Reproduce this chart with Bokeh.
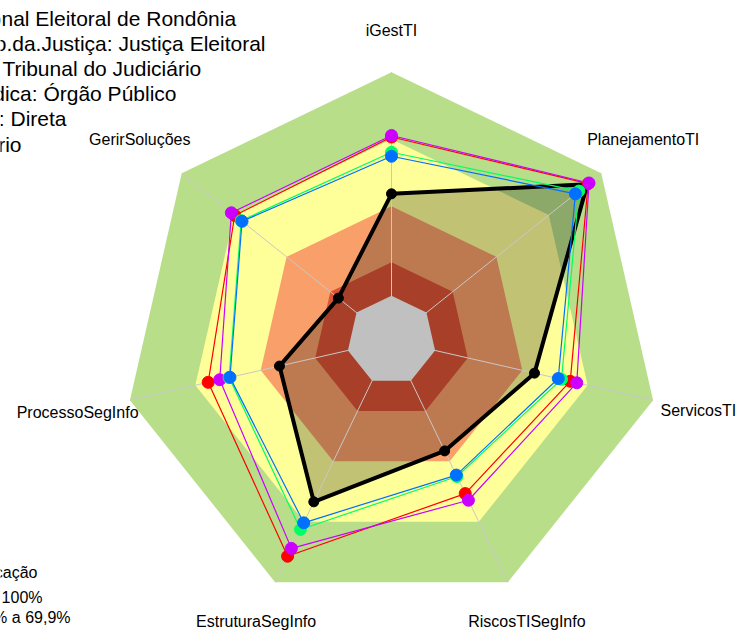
import numpy as np
from bokeh.plotting import figure
from bokeh.models import Range1d
from bokeh.core.properties import value
from bokeh.embed import file_html
from bokeh.resources import INLINE

# ---------------- data ----------------
categorias = ["iGestTI", "PlanejamentoTI", "ServicosTI", "RiscosTISegInfo",
              "EstruturaSegInfo", "ProcessoSegInfo", "GerirSoluções"]

# organisation (black, filled)
orgao = [45.6, 92.0, 45.6, 34.8, 60.1, 31.4, 10.4]
# comparison series
serie_vermelha = [71.0, 92.5, 62.0, 56.0, 87.1, 64.1, 69.7]
serie_verde = [64.2, 87.2, 58.0, 47.5, 73.8, 54.5, 66.0]
serie_magenta = [71.7, 93.0, 65.0, 59.3, 83.2, 58.8, 71.6]
serie_azul = [62.4, 85.2, 56.5, 46.8, 70.5, 54.1, 65.5]

# classification bands (upper limit of each band, %)
faixas_limite = [100, 70, 40, 15, 0]
faixas_cor = ["#B8DE8A", "#FFFF99", "#F9A06A", "#DC5436", "#C0C0C0"]

texto_info = [
    "Organização: Tribunal Regional Eleitoral de Rondônia",
    "Segmento.da.Justiça: Justiça Eleitoral",
    "Tipo:  Tribunal do Judiciário",
    "Natureza.Jurídica: Órgão Público",
    "Administração: Direta",
    "Poder: Judiciário",
]
legenda_textos = ["Classificação", "Aprimorado: 70% a 100%", "Intermediário: 40% a 69,9%"]

# ---------------- geometry ----------------
N = len(categorias)
ang = np.pi / 2 - 2 * np.pi * np.arange(N) / N
CENTRO = -20.0  # value shown at the centre of the radar


def raio(v):
    return (np.asarray(v, dtype=float) - CENTRO) / (100.0 - CENTRO)


def xy(v, fechar=False):
    r = raio(v) * np.ones(N)
    x = r * np.cos(ang)
    y = r * np.sin(ang)
    if fechar:
        x = np.append(x, x[0])
        y = np.append(y, y[0])
    return x, y


PX = 268.3             # pixels per radius unit
CX, CY = 391.0, 340.0  # centre in picture pixels
W, H = 736, 633


def px(X, Y):
    return (X - CX) / PX, (CY - Y) / PX


x0, y1 = px(0, 0)
x1, y0 = px(W, H)

p = figure(width=W, height=H, output_backend="svg", toolbar_location=None,
           x_range=Range1d(x0, x1), y_range=Range1d(y0, y1),
           min_border=0, outline_line_color=None)
p.axis.visible = False
p.grid.visible = False
p.background_fill_color = "white"
p.border_fill_color = "white"

FONT = value("Liberation Sans")

# bands (outer first)
for lim, cor in zip(faixas_limite[:-1], faixas_cor[:-1]):
    bx, by = xy(lim)
    p.patch(bx, by, fill_color=cor, line_color=None)

# organisation fill
ox, oy = xy(orgao)
p.patch(ox, oy, fill_color="black", fill_alpha=0.24, line_color=None)

# spokes
ex, ey = xy(100)
p.segment(x0=np.zeros(N), y0=np.zeros(N), x1=ex, y1=ey,
          line_color="#C8C8C8", line_width=1)

# centre band
gx, gy = xy(faixas_limite[-1])
p.patch(gx, gy, fill_color=faixas_cor[-1], line_color=None)

# organisation line + points
lx, ly = xy(orgao, fechar=True)
p.line(lx, ly, line_color="black", line_width=4)
p.scatter(ox, oy, size=10, color="black")

# comparison series
for serie, cor in [(serie_vermelha, "#FF0000"), (serie_magenta, "#CC00FF"),
                   (serie_verde, "#00FF66"), (serie_azul, "#0070FF")]:
    sx, sy = xy(serie, fechar=True)
    p.line(sx, sy, line_color=cor, line_width=1.2)
    qx, qy = xy(serie)
    p.scatter(qx, qy, size=12, color=cor)

# category labels
rot_r = [1.155, 1.2, 1.173, 1.163, 1.163, 1.2, 1.2]
tx = np.array(rot_r) * np.cos(ang)
ty = np.array(rot_r) * np.sin(ang)
p.text(tx, ty, text=categorias, text_align="center", text_baseline="middle",
       text_font=FONT, text_font_size=value("16px"), text_color="black")

# info block (top-left, cut by the left edge as in the original)
info_fim_x = [236, 265, 207, 176, 66, 21]
info_y = [18, 43, 68, 93, 118, 144]
ix = [px(a, b)[0] for a, b in zip(info_fim_x, info_y)]
iy = [px(a, b)[1] for a, b in zip(info_fim_x, info_y)]
p.text(ix, iy, text=texto_info, text_align="right", text_baseline="middle",
       text_font=FONT, text_font_size=value("21px"), text_color="black")

# legend (bottom-left, cut by the left edge as in the original)
leg_fim_x = [37, 42, 70]
leg_y = [572, 597, 617]
gxl = [px(a, b)[0] for a, b in zip(leg_fim_x, leg_y)]
gyl = [px(a, b)[1] for a, b in zip(leg_fim_x, leg_y)]
p.text(gxl, gyl, text=legenda_textos, text_align="right", text_baseline="middle",
       text_font=FONT, text_font_size=value("16px"), text_color="black")

open("out.html", "w").write(file_html(p, INLINE))
